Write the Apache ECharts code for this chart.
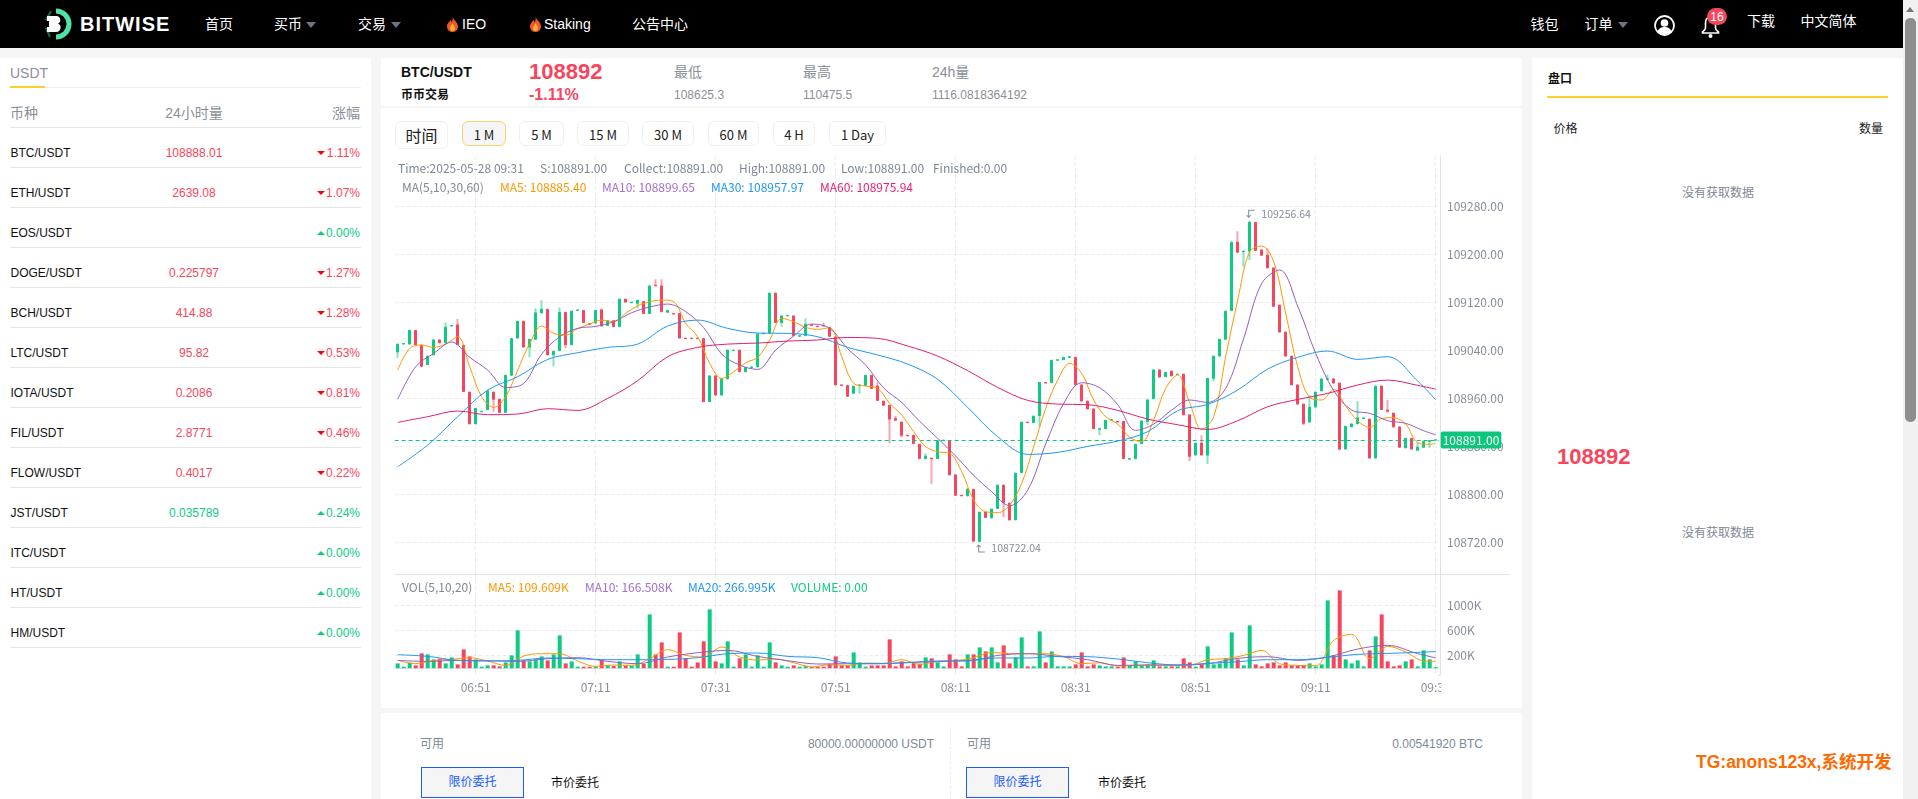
<!DOCTYPE html>
<html><head><meta charset="utf-8"><title>BTC/USDT</title>
<script src="https://cdn.jsdelivr.net/npm/echarts@6/dist/echarts.min.js"></script>
<style>
html,body{margin:0;padding:0;width:1918px;height:799px;overflow:hidden;background:#f5f5f5;font-family:"Liberation Sans","Noto Sans CJK SC",sans-serif;font-size:12px}
.box{position:absolute;background:#fff}
.t{position:absolute;white-space:nowrap;line-height:16px}
#chart{position:absolute;left:0;top:0;width:1918px;height:799px;z-index:3}
#over{position:absolute;left:0;top:0;width:1918px;height:799px;z-index:4;pointer-events:none}
.tab{position:absolute;top:121px;height:25px;line-height:25px;text-align:center;border:1px solid #f0f0f0;border-radius:6px;box-sizing:border-box;font-family:"Noto Sans CJK SC";color:#222;background:#fff}
svg{position:absolute;overflow:visible}
</style></head><body>
<div id="page"></div><div id="chart"></div><div id="over"></div>
<script>
const categories=['06:38','06:39','06:40','06:41','06:42','06:43','06:44','06:45','06:46','06:47','06:48','06:49','06:50','06:51','06:52','06:53','06:54','06:55','06:56','06:57','06:58','06:59',
'07:00','07:01','07:02','07:03','07:04','07:05','07:06','07:07','07:08','07:09','07:10','07:11','07:12','07:13','07:14','07:15','07:16','07:17','07:18','07:19','07:20','07:21','07:22','07:23','07:24','07:25','07:26','07:27','07:28','07:29','07:30','07:31','07:32','07:33','07:34','07:35','07:36','07:37','07:38','07:39','07:40','07:41','07:42','07:43','07:44','07:45','07:46','07:47','07:48','07:49','07:50','07:51','07:52','07:53','07:54','07:55','07:56','07:57','07:58','07:59',
'08:00','08:01','08:02','08:03','08:04','08:05','08:06','08:07','08:08','08:09','08:10','08:11','08:12','08:13','08:14','08:15','08:16','08:17','08:18','08:19','08:20','08:21','08:22','08:23','08:24','08:25','08:26','08:27','08:28','08:29','08:30','08:31','08:32','08:33','08:34','08:35','08:36','08:37','08:38','08:39','08:40','08:41','08:42','08:43','08:44','08:45','08:46','08:47','08:48','08:49','08:50','08:51','08:52','08:53','08:54','08:55','08:56','08:57','08:58','08:59',
'09:00','09:01','09:02','09:03','09:04','09:05','09:06','09:07','09:08','09:09','09:10','09:11','09:12','09:13','09:14','09:15','09:16','09:17','09:18','09:19','09:20','09:21','09:22','09:23','09:24','09:25','09:26','09:27','09:28','09:29','09:30','09:31'];
const opens=[109038,109051,109051,109074,109049,109017,109033,109058,109053,109081,
109083,109049,108971,108918,108938,108942,108971,108959,108937,108999,
109061,109089,109046,109059,109103,109109,109033,109040,109104,109050,
109107,109107,109085,109086,109108,109082,109090,109080,109126,109120,
109119,109122,109102,109149,109148,109104,109102,109102,109061,109061,
109061,109060,108955,108998,108966,108993,109040,109041,109005,109012,
109013,109068,109069,109136,109087,109098,109098,109064,109065,109083,
109081,109082,109079,109063,108983,108982,108969,108982,108982,108999,
108981,108956,108949,108927,108921,108899,108899,108884,108860,108861,
108860,108890,108890,108833,108799,108798,108809,108722.04,108771,108762,
108777,108816,108786,108758,108837,108921,108920,108932,108987,108987,
109024,109025,109029,109029,108983,108956,108943,108909,108910,108924,
108922,108922,108859,108860,108885,108922,108960,109008,108997,109006,
109000,109001,108933,108866,108886,108866,108994,109031,109059,109107,
109221,109205,109206,109254,109208,109199,109178,109116,109071,109031,
108983,108951,108921,108946,108973,108992,108993,108986,108876,108913,
108918,108927,108926,108861,108981,108941,108936,108913,108878,108894,
108874,108879,108889,108891];
const closes=[109051,109052,109074,109050,109014,109031,109058,109053,109079,109082,
109050,108972,108918,108944,108939,108973,108959,108937,108999,109060,
109089,109046,109059,109103,109109,109033,109039,109104,109050,109106,
109108,109087,109084,109107,109081,109090,109080,109126,109121,109121,
109124,109102,109148,109148,109105,109107,109101,109061,109060,109060,
109060,108955,108998,108966,108993,109041,109041,109005,109012,109013,
109068,109069,109136,109087,109098,109099,109065,109065,109084,109082,
109080,109081,109064,108983,108982,108964,108981,108983,108999,108977,
108957,108949,108926,108924,108899,108898,108885,108860,108864,108860,
108890,108891,108833,108799,108798,108809,108722.5,108771,108762,108776,
108816,108787,108758,108836,108921,108920,108931,108987,108986,109024,
109025,109029,109030,108983,108956,108943,108910,108910,108924,108925,
108921,108860,108860,108884,108923,108958,109008,108996,109004,108998,
109001,108933,108864,108886,108866,108994,109031,109059,109106,109221,
109204,109206,109254,109207,109199,109178,109114,109071,109031,108983,
108951,108919,108946,108971,108993,108993,108986,108876,108914,108918,
108928,108928,108861,108981,108942,108939,108913,108879,108894,108876,
108879,108889,108890,108891.5];
const wickLows={0:109028,4:109013,16:108938,22:109029,26:109014,28:109044,40:109110.5,64:109080,77:108968,82:108885.5,84:108895.5,89:108818,95:108798,99:108759,101:108763,102:108757,107:108913,117:108899,125:108916,128:108995.5,132:108856,135:108851,136:108989,141:109180,142:109191,151:108916,157:108874,165:108937,172:108878};
const wickHighs={8:109087,10:109093,23:109110.5,24:109124,27:109112,34:109110.5,43:109159,44:109159,68:109094,71:109087,80:108988,83:108931,88:108869,95:108811,134:108899,140:109239,142:109256.64,145:109210.5,152:108966,155:109000,160:108956,165:108958,170:108887,172:108891};
const volumes=[77,24,88,45,237,221,141,152,77,173,61,301,189,141,24,45,45,29,93,205,
605,125,109,141,189,125,221,525,77,109,24,24,24,24,125,40,35,109,45,35,
221,67,861,221,413,24,24,573,157,24,93,429,941,109,77,429,24,157,221,24,
205,24,413,93,45,24,45,24,40,24,24,24,61,189,45,45,253,93,24,45,
45,45,461,29,109,29,83,72,173,157,93,29,221,141,29,221,221,333,269,333,
93,365,77,173,493,29,29,589,93,269,29,29,29,61,253,29,61,45,29,29,
24,173,45,109,45,61,125,29,29,29,29,157,93,24,61,349,61,77,157,573,
141,45,685,61,29,77,93,45,93,45,45,45,77,29,61,1085,205,1245,141,77,
125,29,285,509,861,109,29,45,109,141,29,285,141,0];
const priceMA5=[109007.7,109043.9,109049.4,109045.5,109051.1,109063.3,109013.3,108963.3,108945.5,108963.3,109007.7,109052,109081,109068.9,109066,109077,109084.4,109091,109088.3,109102.2,109115,109121.6,109124.4,109121.6,109085.5,109063.3,109018.9,108993.9,109005,109020,109028.9,109057.8,109093.9,109088.3,109078.9,109075.5,109078.3,109030,108985.5,108981,108977.2,108952.2,108932.7,108905,108880,108871.6,108868.9,108838.3,108791,108771.6,108770,108782.7,108818.8,108880,108943.9,108991,109018.9,109002.2,108957.8,108930,108917.7,108895.5,108888.3,108924.4,108977.2,108999.4,108953.3,108908.8,108930,109030,109124.4,109205,109214.4,109188.3,109102.2,109013.3,108962.2,108957.8,108975.5,108947.7,108923.3,108912.2,108927.2,108928.3,108917.7,108886.6,108883.9];
const priceMA10=[108958.8,109013.3,109035.5,109054.4,109028.9,109007.7,108978.8,108985.5,109034.4,109063.3,109077.2,109080.5,109088.3,109103.3,109112.8,109117.7,109105,109078.3,109034.4,109016,109008.8,109041,109064.4,109084.4,109077.2,109043.3,109016,108977.7,108953.8,108922.2,108893.9,108864.4,108832.2,108805,108781.6,108807.7,108884.4,108952.2,108986.6,108978.3,108950,108907.2,108917.7,108941,108957.8,108953.8,108977.2,109060.5,109152.2,109174.4,109114.4,109035.5,108973.3,108941,108935.5,108923.3,108918.9,108906.6];
const priceMA30=[108846.6,108882.7,108930,108974.4,108996.6,109025.5,109036.6,109045.5,109051,109081,109091,109077.2,109069.4,109068.9,109063.3,109045.5,109032.8,109017.7,108992.2,108945.5,108896.6,108867.2,108870.5,108880.5,108889.4,108905,108940,108950.5,108974.4,109009.4,109028.9,109039.4,109025.5,109030,108989.4];
const priceMA60=[108920.5,108930,108939.4,108933.3,108934.4,108943.3,108940.5,108960.5,108990,109030,109045.5,109051,109052.7,109056,109057.8,109062,109060.5,109047.8,109031,109006.6,108978.8,108957.2,108951,108950,108940.5,108926,108916.6,108908.8,108923.3,108946.6,108958.8,108968.8,108982.8,108991,108982.2];
const priceMALast=[108885.40,108899.65,108957.97,108975.94];
const volMA5=[125,72,125,141,168,115,45,195,232,232,115,29,51,45,152,296,205,179,339,179,131,147,88,19,56,45,83,77,136,61,109,120,168,253,232,232,232,184,72,88,35,45,51,40,45,136,152,205,285,72,45,40,445,541,152,349,259,115];
const volMA10=[125,109,125,120,109,152,168,109,72,179,248,285,189,120,67,72,72,88,115,115,205,232,189,136,45,51,51,72,157,184,125,179,307,365,232];
const volMA20=[216,189,125,115,125,163,152,136,136,141,168,232,243,189,168,83,72,93,104,125,163,163,189,184,147,88,51,77,104,136,136,173,221,237,253];
const volMALast=[109.609,166.508,266.995];
const yTicks=[108720,108800,108880,108960,109040,109120,109200,109280];
const volTicks=[200000,600000,1000000];
const lastPrice=108891;
const coins=['BTC/USDT','ETH/USDT','EOS/USDT','DOGE/USDT','BCH/USDT','LTC/USDT','IOTA/USDT','FIL/USDT','FLOW/USDT','JST/USDT','ITC/USDT','HT/USDT','HM/USDT'];
const coinVol=['108888.01','2639.08','','0.225797','414.88','95.82','0.2086','2.8771','0.4017','0.035789','','',''];
const coinChg=[-1.11,-1.07,0,-1.27,-1.28,-0.53,-0.81,-0.46,-0.22,0.24,0,0,0];

const RED='#f6465d',GREEN='#0ecb81',GRAY='#7e8896';
const page=document.getElementById('page'),over=document.getElementById('over');
function box(x,y,w,h,css,host){const d=document.createElement('div');d.className='box';d.style.cssText=`left:${x}px;top:${y}px;width:${w}px;height:${h}px;${css||''}`;(host||page).appendChild(d);return d;}
function t(x,cy,s,css,host){const d=document.createElement('div');d.className='t';d.textContent=s;d.style.cssText=`left:${x}px;top:${cy-8}px;${css||''}`;(host||page).appendChild(d);return d;}
function tr(rx,cy,s,css,host){const d=t(0,cy,s,css,host);d.style.left='auto';d.style.right=(1918-rx)+'px';return d;}
function tc(cx,cy,s,css,host){const d=t(cx,cy,s,css,host);d.style.transform='translateX(-50%)';return d;}
// frame
box(0,0,1903,48,'background:#000');
box(1903,0,15,799,'background:#f1f1f1');
box(1905,18,11,404,'background:#8d8d8d;border-radius:5px');
box(1906,7,0,0,'background:none;border-left:4px solid transparent;border-right:4px solid transparent;border-bottom:5px solid #777');
box(0,58,371,741);box(381,58,1141,48);box(381,108,1141,600);box(381,713,1141,86);box(1532,58,371,741);
// nav
const W='color:#fff;font-size:14px;';
page.insertAdjacentHTML('beforeend',`<svg style="left:42px;top:8px" width="28" height="32" viewBox="0 0 28 32"><path d="M14 3a13 13 0 0 1 0 26" fill="none" stroke="#4fe3a8" stroke-width="5"/><path d="M9 3 L4 12 M8 29 L4 20" stroke="#1a6a50" stroke-width="2"/><path d="M5 8h9a4 4 0 0 1 2 7.6a4.4 4.4 0 0 1-2 8.4H5v-5h2v-6H5z" fill="#fff"/></svg>`);
t(80,24,'BITWISE','color:#fff;font-weight:bold;font-size:20px;letter-spacing:1px');
t(205,24,'首页',W);t(274,24,'买币',W);t(358,24,'交易',W);t(462,24,'IEO',W);t(544,24,'Staking',W);t(632,24,'公告中心',W);
t(1530.5,24,'钱包',W);t(1584.5,24,'订单',W);t(1747,21,'下载',W);t(1800.5,21,'中文简体',W);
for(const x of [306,391,1618])box(x,22,0,0,'background:none;border-left:5px solid transparent;border-right:5px solid transparent;border-top:6px solid #6f7480');
for(const x of [447,530])page.insertAdjacentHTML('beforeend',`<svg style="left:${x}px;top:16px" width="11" height="16" viewBox="0 0 11 16"><path d="M5.5 0C6 4 11 6 11 10.5A5.5 5.5 0 0 1 0 10.5C0 7 3 6 3 4c1 .6 1.6 1.6 1.6 2.6C5.5 5 6 2.5 5.5 0z" fill="#f0562a"/><path d="M5.5 7c.6 2 2.5 3 2.5 5a2.5 3 0 0 1-5 0c0-2 2-3 2.5-5z" fill="#ffb02e"/></svg>`);
page.insertAdjacentHTML('beforeend',`<svg style="left:1654px;top:15px" width="21" height="21" viewBox="0 0 21 21"><circle cx="10.5" cy="10.5" r="9.5" fill="#000" stroke="#fff" stroke-width="1.8"/><circle cx="10.5" cy="8" r="3.8" fill="#fff"/><path d="M3.5 17c1-4 4-5 7-5s6 1 7 5a9 9 0 0 1-14 0z" fill="#fff"/></svg>
<svg style="left:1701px;top:14px" width="19" height="24" viewBox="0 0 19 24"><path d="M9.5 3c-3.5 0-5 2.5-5 6v5c0 1.500-1.500 3-3 4v1h16v-1c-1.500-1-3-2.500-3-4V9c0-3.500-1.500-6-5-6z" fill="none" stroke="#fff" stroke-width="1.6"/><circle cx="9.5" cy="22" r="2" fill="#fff"/></svg>`);
box(1707,8,20,17,'background:#f6465d;border-radius:9px');
tc(1717,16.5,'16','color:#fff;font-size:12px;');
// sidebar
const LG='color:#8a8f99;';
t(10,73,'USDT',LG+'font-size:14px');
box(10,86.5,351,1,'background:#efefef');box(10,86,35,2,'background:#fad02c');
t(10,113,'币种',LG+'font-size:14px');tc(194,113,'24小时量',LG+'font-size:14px');tr(360,113,'涨幅',LG+'font-size:14px');
box(10,127,351,1,'background:#e6e6e6');
coins.forEach((c,i)=>{
  const cy=153+40*i,col=coinChg[i]<0?RED:GREEN;
  t(10.5,cy,c,'color:#111;font-size:12px');
  tc(194,cy-.5,coinVol[i],`color:${coinChg[i]<0?RED:GREEN};font-size:12px`);
  tr(360,cy-.5,Math.abs(coinChg[i]).toFixed(2)+'%',`color:${col};font-size:12px`);
  box(317,cy-2,0,0,coinChg[i]<0?'background:none;border-left:4px solid transparent;border-right:4px solid transparent;border-top:4px solid #f00':'background:none;border-left:4px solid transparent;border-right:4px solid transparent;border-bottom:4px solid #0ecb81');
  box(10,166.5+40*i,351,1,'background:#e6e6e6');
});
// ticker
t(401,72,'BTC/USDT','font-weight:bold;font-size:14px;color:#111');t(401,95,'币币交易','font-weight:bold;font-size:12px;color:#111');
t(529,72,'108892',`font-weight:bold;font-size:22px;color:${RED}`);t(529,95,'-1.11%',`font-size:16px;font-weight:bold;color:${RED}`);
[[674,'最低','108625.3'],[803,'最高','110475.5'],[932,'24h量','1116.0818364192']].forEach(a=>{t(a[0],72,a[1],'color:#8a8f99;font-size:14px');t(a[0],95,a[2],'color:#8a8f99;font-size:12px');});
// tabs
[[395,53,'时间',1],[462,44,'1 M',2],[519,45,'5 M'],[577,52,'15 M'],[642,52,'30 M'],[708,51,'60 M'],[773,42,'4 H'],[829,57,'1 Day']].forEach(a=>{
  const d=document.createElement('div');d.className='tab';d.textContent=a[2];
  d.style.cssText=`left:${a[0]}px;width:${a[1]}px;font-size:${a[3]==1?16:13}px;`+(a[3]==1?'height:28px;line-height:27px;':'')+(a[3]==2?'background:#f5f5f5;border-color:#f8d56a;':'');
  page.appendChild(d);
});
// chart captions
const F='font-family:\'Noto Sans CJK SC\';font-size:12px;';
[[398,'Time:2025-05-28 09:31'],[540,'S:108891.00'],[624,'Collect:108891.00'],[739,'High:108891.00'],[841,'Low:108891.00'],[933,'Finished:0.00']].forEach(a=>t(a[0],168,a[1],F+'color:'+GRAY,over));
[[402,'MA(5,10,30,60)',GRAY],[500,'MA5: 108885.40','#ff9600'],[602,'MA10: 108899.65','#a36fd0'],[711,'MA30: 108957.97','#2196f3'],[820,'MA60: 108975.94','#e91e73']].forEach(a=>t(a[0],186.5,a[1],F+'color:'+a[2],over));
[[402,'VOL(5,10,20)',GRAY],[488,'MA5: 109.609K','#ff9600'],[585,'MA10: 166.508K','#a36fd0'],[688,'MA20: 266.995K','#2196f3'],[791,'VOLUME: 0.00',GREEN]].forEach(a=>t(a[0],587,a[1],F+'color:'+a[2],over));
box(1438,574,72,1,'background:#e2e2e2',over);
box(1438,675,2,1,'background:#e2e2e2',over);
box(1441,677,70,24,'background:#fff',over);
// right panel
t(1548,79,'盘口','color:#111;font-weight:bold;font-size:12px');box(1547,96,341,2,'background:#fad02c');
t(1553.5,129,'价格','color:#222;font-size:12px');tr(1883,129,'数量','color:#222;font-size:12px');
tc(1718,193,'没有获取数据','color:#7e8896;font-size:12px');tc(1718,533,'没有获取数据','color:#7e8896;font-size:12px');
t(1557,457,'108892',`font-weight:bold;font-size:22px;color:${RED}`);
t(1696,762,'TG:anons123x,系统开发','font-weight:bold;font-size:17.5px;color:#ff6a00');
// order panel
t(420,744,'可用','color:#7e8896;font-size:12px');tr(934,744,'80000.00000000 USDT','color:#7e8896;font-size:12px');
t(967,744,'可用','color:#7e8896;font-size:12px');tr(1483,744,'0.00541920 BTC','color:#7e8896;font-size:12px');
box(950,727,0,72,'border-left:1px dashed #eee');
[[421,551],[966,1098]].forEach(a=>{const b=box(a[0],767,101,29,'background:#f5f5f5;border:1px solid #1a5cff;text-align:center;line-height:29px;color:#1a5cff;font-size:12px');b.textContent='限价委托';t(a[1],783,'市价委托','color:#111;font-size:12px');});

// series data
const lows=opens.map((o,i)=>wickLows[i]!==undefined?wickLows[i]:Math.min(o,closes[i]));
const highs=opens.map((o,i)=>wickHighs[i]!==undefined?wickHighs[i]:Math.max(o,closes[i]));
const wickData=opens.map((o,i)=>[o,closes[i],lows[i],highs[i]]);
const bodyData=opens.map((o,i)=>[o,closes[i],Math.min(o,closes[i]),Math.max(o,closes[i])]);
const stepped=(arr,step,last)=>{const p=arr.map((v,k)=>[k*step,v]);if(last!==undefined)p.push([opens.length-1,last]);return p;};
const line=(name,arr,step,last,color,ax)=>({name,type:'line',xAxisIndex:ax,yAxisIndex:ax,data:stepped(arr,step,last),showSymbol:false,symbol:'none',smooth:0.35,lineStyle:{color,width:1},silent:true,z:5,animation:false});
const tickShown=i=>(i-13)%20===0;
const split={show:true,interval:tickShown,alignWithLabel:true,lineStyle:{type:'dashed',color:'#ececec',width:1}};
const xBase={type:'category',data:categories,boundaryGap:true,axisPointer:{show:false}};
const ySplit={show:true,lineStyle:{type:'dashed',color:'#ececec',width:1}};
const axisLabel={color:'#868e9b',fontSize:12,fontFamily:'Noto Sans CJK SC'};
const arrowHi='path://M8 0 L2 0 L2 7 M0 5 L2 7 L4 5';
const arrowLo='path://M8 7 L2 7 L2 0 M0 2 L2 0 L4 2';
const markLabel={show:true,position:'right',distance:4,color:'#868e9b',fontSize:10.5,fontFamily:'Noto Sans CJK SC'};
const option={animation:false,
 grid:[{left:394.7,width:1044,top:156,height:418.3},{left:394.7,width:1044,top:574.3,height:100.7}],
 xAxis:[Object.assign({},xBase,{gridIndex:0,axisLine:{lineStyle:{color:'#e2e2e2'}},axisTick:{show:false},axisLabel:{show:false},splitLine:split}),
  Object.assign({},xBase,{gridIndex:1,axisLine:{lineStyle:{color:'#e2e2e2'}},axisTick:{show:true,interval:tickShown,alignWithLabel:true,length:3,lineStyle:{color:'#e2e2e2'}},axisLabel:Object.assign({},axisLabel,{interval:tickShown,margin:6}),splitLine:split})],
 yAxis:[{type:'value',gridIndex:0,position:'right',offset:1.3,min:108667.3,max:109364.5,axisLine:{show:true,lineStyle:{color:'#e2e2e2'}},axisTick:{show:false,customValues:yTicks},axisLabel:Object.assign({},axisLabel,{customValues:yTicks,margin:7,formatter:v=>v.toFixed(2)}),splitLine:ySplit},
  {type:'value',gridIndex:1,position:'right',offset:1.3,min:-108800,max:1502000,axisLine:{show:true,lineStyle:{color:'#e2e2e2'}},axisTick:{show:false,customValues:volTicks},axisLabel:Object.assign({},axisLabel,{customValues:volTicks,margin:7,formatter:v=>(v/1000)+'K'}),splitLine:ySplit}],
 series:[
  {name:'wick',type:'candlestick',xAxisIndex:0,yAxisIndex:0,data:wickData,barWidth:1,silent:true,z:2,itemStyle:{color:'#86e3bf',color0:'#f9a3ae',borderColor:'#86e3bf',borderColor0:'#f9a3ae',borderWidth:2}},
  {name:'BTC/USDT',type:'candlestick',xAxisIndex:0,yAxisIndex:0,data:bodyData,barWidth:3,silent:true,z:3,itemStyle:{color:GREEN,color0:RED,borderColor:GREEN,borderColor0:RED,borderWidth:1},
   markLine:{silent:true,symbol:['none','none'],animation:false,lineStyle:{type:[4,3],color:'#0cc67c',width:1},data:[{yAxis:lastPrice}],
     label:{show:true,position:'end',distance:0,offset:[2,0],formatter:lastPrice.toFixed(2),color:'#fff',backgroundColor:'#0cc67c',padding:[3,2,2,2],borderRadius:2,fontSize:12,fontFamily:'Noto Sans CJK SC'}},
   markPoint:{silent:true,animation:false,data:[
     {coord:[categories[142],109256.64],symbol:arrowHi,symbolSize:[8,7],symbolOffset:[1,-7],itemStyle:{color:'none',borderColor:'#868e9b',borderWidth:1},label:markLabel,value:'109256.64'},
     {coord:[categories[97],108722.04],symbol:arrowLo,symbolSize:[8,7],symbolOffset:[1,7],itemStyle:{color:'none',borderColor:'#868e9b',borderWidth:1},label:markLabel,value:'108722.04'}]}},
  line('MA5',priceMA5,2,priceMALast[0],'#ff9600',0),
  line('MA10',priceMA10,3,priceMALast[1],'#935ebd',0),
  line('MA30',priceMA30,5,priceMALast[2],'#2196f3',0),
  line('MA60',priceMA60,5,priceMALast[3],'#e11d74',0),
  {name:'VOLUME',type:'bar',xAxisIndex:1,yAxisIndex:1,barWidth:4,barMinHeight:1,silent:true,data:volumes.map((v,i)=>({value:v*1000,itemStyle:{color:closes[i]>=opens[i]?GREEN:RED}})),z:2},
  line('VOL MA5',volMA5.map(v=>v*1000),3,volMALast[0]*1000,'#ff9600',1),
  line('VOL MA10',volMA10.map(v=>v*1000),5,volMALast[1]*1000,'#935ebd',1),
  line('VOL MA20',volMA20.map(v=>v*1000),5,volMALast[2]*1000,'#2196f3',1)
 ]};
echarts.init(document.getElementById('chart'),null,{renderer:'canvas'}).setOption(option);
</script></body></html>
